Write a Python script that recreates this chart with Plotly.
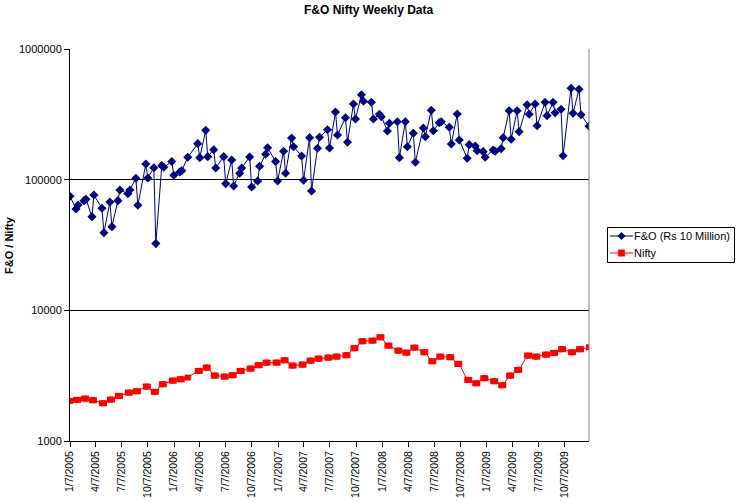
import pandas as pd
import plotly.graph_objects as go

# Weekly (Friday) observations, as week offsets from 7 Jan 2005
start_date = "2005-01-07"
week_offsets = [0, 3, 4, 7, 8, 11, 12, 16, 17, 20, 21, 24, 25, 29, 30, 33, 34, 38, 39,
                42, 43, 46, 47, 51, 52, 55, 56, 59, 64, 65, 68, 69, 72, 73, 77, 78,
                81, 82, 85, 86, 90, 91, 94, 95, 98, 99, 103, 104, 107, 108, 111, 112,
                116, 117, 120, 121, 124, 125, 129, 130, 133, 134, 138, 139, 142, 143,
                146, 147, 151, 152, 155, 156, 159, 160, 164, 165, 168, 169, 172, 173,
                177, 178, 181, 182, 185, 186, 190, 191, 194, 195, 199, 200, 203, 204,
                207, 208, 212, 213, 216, 217, 220, 221, 224, 225, 229, 230, 233, 234,
                238, 239, 242, 243, 246, 247, 251, 252, 255, 256, 260]

fo_turnover = [74650, 59700, 64000, 69100, 70800, 52100, 76350, 60400, 39300, 67500,
               43700, 69100, 83400, 78150, 83400, 102500, 63700, 131900, 103000,
               123500, 32400, 128000, 124400, 137800, 108100, 114500, 117200, 148400,
               188600, 147400, 238800, 150000, 169600, 122900, 150000, 93200, 141500,
               89500, 111900, 122900, 149200, 87900, 97700, 126600, 156400, 175700,
               137800, 97700, 164900, 111900, 208400, 178800, 151800, 98900, 209600,
               81900, 173900, 211000, 241300, 174800, 329600, 219800, 298100, 193300,
               379600, 291300, 447000, 398000, 391000, 291300, 317100, 303400, 235800,
               270100, 277800, 147400, 277800, 178800, 226500, 135900, 248700, 213300,
               339600, 237100, 273000, 277800, 251700, 187600, 318200, 201300, 145800,
               185300, 181000, 166700, 163800, 148400, 168700, 164900, 172700, 209600,
               337200, 203800, 337200, 233000, 374900, 316500, 379600, 258900, 391000,
               308900, 391000, 325600, 345600, 152600, 500400, 322100, 491700, 314300,
               256200]

nifty = [2028, 2063, 2063, 2110, 2110, 2052, 2052, 1946, 1946, 2074, 2074, 2213, 2213,
         2346, 2346, 2404, 2404, 2608, 2608, 2376, 2376, 2720, 2720, 2898, 2898, 2970,
         2970, 3055, 3439, 3439, 3645, 3645, 3166, 3166, 3110, 3110, 3188, 3188, 3439,
         3439, 3581, 3581, 3802, 3802, 3979, 3979, 3979, 3979, 4151, 4151, 3775, 3775,
         3842, 3842, 4122, 4122, 4270, 4270, 4346, 4346, 4424, 4424, 4534, 4534, 5129,
         5129, 5801, 5801, 5863, 5863, 6225, 6225, 5369, 5369, 4917, 4917, 4746, 4746,
         5183, 5183, 4779, 4779, 4080, 4080, 4424, 4424, 4377, 4377, 3890, 3890, 2934,
         2934, 2768, 2768, 3023, 3023, 2867, 2867, 2672, 2672, 3166, 3166, 3499, 3499,
         4502, 4502, 4424, 4424, 4582, 4582, 4721, 4721, 5040, 5040, 4779, 4779, 5040,
         5040, 5220]

series_names = ["F&O (Rs 10 Million)", "Nifty"]
series_colors = ["#000080", "#ff0000"]

tick_dates = ["2005-01-07", "2005-04-07", "2005-07-07", "2005-10-07",
              "2006-01-07", "2006-04-07", "2006-07-07", "2006-10-07",
              "2007-01-07", "2007-04-07", "2007-07-07", "2007-10-07",
              "2008-01-07", "2008-04-07", "2008-07-07", "2008-10-07",
              "2009-01-07", "2009-04-07", "2009-07-07", "2009-10-07"]
tick_labels = ["1/7/2005", "4/7/2005", "7/7/2005", "10/7/2005",
               "1/7/2006", "4/7/2006", "7/7/2006", "10/7/2006",
               "1/7/2007", "4/7/2007", "7/7/2007", "10/7/2007",
               "1/7/2008", "4/7/2008", "7/7/2008", "10/7/2008",
               "1/7/2009", "4/7/2009", "7/7/2009", "10/7/2009"]

y_ticks = [1000, 10000, 100000, 1000000]
y_labels = ["1000", "10000", "100000", "1000000"]

dates = pd.Timestamp(start_date) + pd.to_timedelta([w * 7 for w in week_offsets], unit="D")

FONT = "Liberation Sans, Arial, sans-serif"
W, H = 736, 503
L, R, T, B = 70, 147, 49, 62
PW, PH = W - L - R, H - T - B


def px(x):
    return (x - L) / PW


def py(y):
    return (H - B - y) / PH


fig = go.Figure()
fig.add_trace(go.Scatter(
    x=dates, y=fo_turnover, name=series_names[0], mode="lines+markers",
    line=dict(color=series_colors[0], width=1),
    marker=dict(symbol="diamond", size=7, color=series_colors[0]),
))
fig.add_trace(go.Scatter(
    x=dates, y=nifty, name=series_names[1], mode="lines+markers",
    line=dict(color=series_colors[1], width=1),
    marker=dict(symbol="square", size=6, color=series_colors[1]),
))

fig.update_layout(
    width=W, height=H,
    margin=dict(l=L, r=R, t=T, b=B, autoexpand=False),
    paper_bgcolor="white", plot_bgcolor="white",
    font=dict(family=FONT, size=11, color="black"),
    showlegend=False,
)
fig.add_annotation(text="<b>F&O Nifty Weekly Data</b>", xref="paper", yref="paper",
                   x=px(368), y=py(10), xanchor="center", yanchor="middle",
                   showarrow=False, font=dict(family=FONT, size=12, color="black"))
fig.add_annotation(text="<b>F&O / Nifty</b>", xref="paper", yref="paper",
                   x=px(9), y=0.5, xanchor="center", yanchor="middle",
                   textangle=-90, showarrow=False,
                   font=dict(family=FONT, size=11, color="black"))
fig.update_xaxes(
    type="date", automargin=False,
    range=[dates[0], dates[-1]],
    tickmode="array", tickvals=tick_dates, ticktext=tick_labels,
    tickangle=-90, tickfont=dict(family=FONT, size=10.5),
    ticks="outside", ticklen=5, tickcolor="black",
    showline=True, linecolor="black", linewidth=1,
    showgrid=False, zeroline=False,
)
fig.update_yaxes(
    type="log", range=[3, 6], automargin=False,
    tickmode="array", tickvals=y_ticks, ticktext=y_labels,
    tickfont=dict(family=FONT, size=11),
    ticks="outside", ticklen=5, tickcolor="black",
    showline=True, linecolor="black", linewidth=1,
    showgrid=True, gridcolor="black", gridwidth=1,
    zeroline=False,
)
# right border of plot area
fig.add_shape(type="line", xref="paper", yref="paper", x0=1, x1=1, y0=0, y1=1,
              line=dict(color="#808080", width=1), layer="above")

# legend box (drawn manually to match the reference layout)
fig.add_shape(type="rect", xref="paper", yref="paper",
              x0=px(607.5), x1=px(734.5), y0=py(262.5), y1=py(227.5),
              line=dict(color="black", width=1), fillcolor="white", layer="above")
legend_rows = [236, 253]
for i, yrow in enumerate(legend_rows):
    col = series_colors[i]
    fig.add_shape(type="line", xref="paper", yref="paper",
                  x0=px(610), x1=px(633), y0=py(yrow), y1=py(yrow),
                  line=dict(color=col, width=1), layer="above")
    cx, cy = 621.5, yrow
    if i == 0:
        d = 3.8
        path = (f"M {px(cx - d)} {py(cy)} L {px(cx)} {py(cy - d)} "
                f"L {px(cx + d)} {py(cy)} L {px(cx)} {py(cy + d)} Z")
        fig.add_shape(type="path", xref="paper", yref="paper", path=path,
                      fillcolor=col, line=dict(color=col, width=0.5), layer="above")
    else:
        d = 3.2
        fig.add_shape(type="rect", xref="paper", yref="paper",
                      x0=px(cx - d), x1=px(cx + d), y0=py(cy + d), y1=py(cy - d),
                      fillcolor=col, line=dict(color=col, width=0.5), layer="above")
    fig.add_annotation(text=series_names[i], xref="paper", yref="paper",
                       x=px(634), y=py(yrow), xanchor="left", yanchor="middle",
                       showarrow=False, xshift=-2,
                       font=dict(family=FONT, size=11, color="black"))

fig.write_html("out.html", config={"displayModeBar": False},
               post_script="document.body.style.margin='0';document.body.style.padding='0';")
